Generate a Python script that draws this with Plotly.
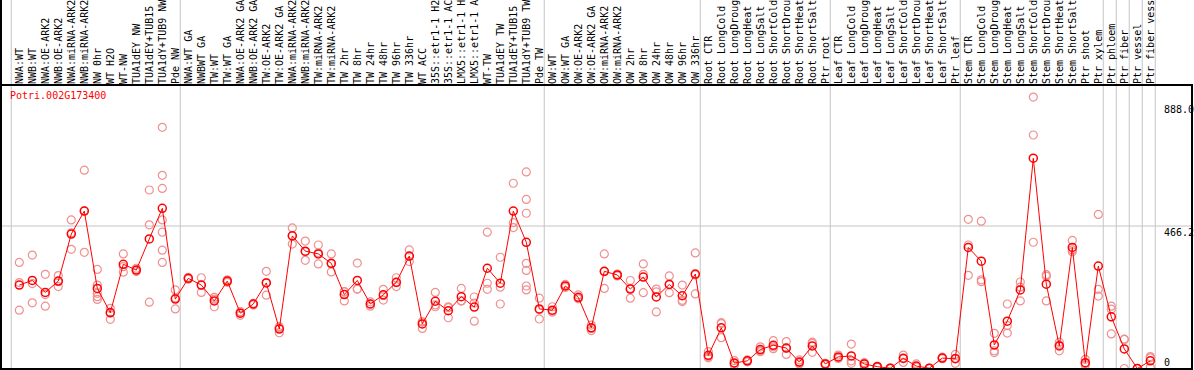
import plotly.graph_objects as go

gene = "Potri.002G173400"

labels = [
    "NWA:WT", "NWB:WT", "NWA:OE-ARK2", "NWB:OE-ARK2", "NWA:miRNA-ARK2", "NWB:miRNA-ARK2",
    "NW 0hr", "WT H2O", "WT-NW", "TUA1dEY NW", "TUA1dEY+TUB15", "TUA1dY+TUB9 NW", "Pde NW",
    "NWA:WT GA", "NWBWT GA", "TW:WT", "TW:WT GA", "NWA:OE-ARK2 GA", "NWB:OE-ARK2 GA",
    "TW:OE-ARK2", "TW:OE-ARK2 GA", "NWA:miRNA-ARK2", "NWB:miRNA-ARK2", "TW:miRNA-ARK2",
    "TW:miRNA-ARK2", "TW 2hr", "TW 8hr", "TW 24hr", "TW 48hr", "TW 96hr", "TW 336hr",
    "WT ACC", "35S::etr1-1 H2", "35S::etr1-1 AC", "LMX5::etr1-1 H", "LMX5::etr1-1 A",
    "WT-TW", "TUA1dEY TW", "TUA1dEY+TUB15", "TUA1dY+TUB9 TW", "Pde TW",
    "OW:WT", "OW:WT GA", "OW:OE-ARK2", "OW:OE-ARK2 GA", "OW:miRNA-ARK2", "OW:miRNA-ARK2",
    "OW 2hr", "OW 8hr", "OW 24hr", "OW 48hr", "OW 96hr", "OW 336hr",
    "Root CTR", "Root LongCold", "Root LongDroug", "Root LongHeat", "Root LongSalt",
    "Root ShortCold", "Root ShortDrou", "Root ShortHeat", "Root ShortSalt", "Ptr root",
    "Leaf CTR", "Leaf LongCold", "Leaf LongDroug", "Leaf LongHeat", "Leaf LongSalt",
    "Leaf ShortCold", "Leaf ShortDrou", "Leaf ShortHeat", "Leaf ShortSalt", "Ptr leaf",
    "Stem CTR", "Stem LongCold", "Stem LongDroug", "Stem LongHeat", "Stem LongSalt",
    "Stem ShortCold", "Stem ShortDrou", "Stem ShortHeat", "Stem ShortSalt", "Ptr shoot",
    "Ptr xylem", "Ptr phloem", "Ptr fiber", "Ptr vessel", "Ptr fiber vess",
]

# first index of each sample group (vertical separators)
group_starts = [0, 13, 41, 53, 63, 73, 84, 85, 86, 87, 88]

means = [
    273, 288, 249, 286, 440, 515, 262, 183, 341, 322, 424, 524, 227,
    295, 273, 221, 286, 181, 211, 280, 129, 434, 384, 375, 344, 242, 288, 211, 241, 282,
    368, 146, 220, 189, 235, 201, 328, 279, 515, 413, 195,
    191, 270, 233, 133, 318, 306, 260, 299, 234, 275, 238, 309,
    43, 133, 18, 25, 62, 76, 67, 21, 74, 15,
    38, 41, 15, 6, 1, 33, 8, 1, 34, 32,
    396, 351, 77, 155, 257, 688, 276, 74, 396, 19, 335,
    169, 64, 0, 25,
]

reps = [
    [347, 281, 191], [371, 278, 215], [308, 242, 204], [304, 284, 268], [486, 444, 390],
    [649, 516, 380], [324, 273, 246, 235, 226], [197, 181, 161], [375, 333, 315],
    [328, 322, 317], [584, 470, 217], [789, 632, 589, 486, 446, 387, 347], [257, 231, 195],
    [292, 295, 298], [297, 273, 249], [233, 227, 202], [282, 286, 290], [186, 181, 174],
    [213, 212, 208], [318, 281, 240], [137, 133, 117], [460, 434, 407], [417, 382, 354],
    [404, 378, 342], [375, 342, 316], [251, 252, 221], [345, 260, 260], [218, 211, 204],
    [259, 238, 224], [297, 281, 268],
    [388, 367, 350], [153, 152, 131], [249, 208, 202], [202, 199, 166], [262, 221, 221],
    [234, 214, 155], [446, 279, 259], [364, 266, 211], [606, 477, 461],
    [643, 553, 508, 344, 321, 270, 257], [230, 192, 162],
    [202, 188, 184], [265, 270, 275], [241, 228, 230], [142, 131, 124], [375, 317, 262],
    [309, 306, 303], [288, 262, 230], [342, 308, 248], [260, 251, 185], [303, 275, 248],
    [273, 223, 219], [378, 306, 244],
    [55, 39, 35], [150, 147, 101], [26, 17, 11], [28, 24, 22], [71, 58, 55], [91, 71, 65],
    [88, 67, 46], [15, 20, 28], [86, 82, 53], [17, 15, 12],
    [44, 36, 33], [80, 25, 17], [19, 17, 8], [4, 6, 8], [0, 1, 0.5], [44, 35, 20],
    [15, 5, 5], [0.3, 0.5, 0.8], [37, 34, 32], [46, 33, 17],
    [488, 404, 305], [482, 290, 284], [115, 58, 52], [211, 140, 116], [283, 266, 221],
    [888, 764, 413], [302, 307, 221], [86, 77, 58], [419, 388, 382], [30, 16, 11],
    [504, 259, 237],
    [204, 194, 113], [95, 0, 96], [0, 0, 0], [39, 35, 4],
]

ytick_vals = [0, 466.2, 888.0]
ytick_text = ["0", "466.2", "888.0"]

FONT = "DejaVu Sans Mono"
RED = "#ff0000"
PINK = "#f09090"
GRID = "#c4c4c4"

x_idx = list(range(len(labels)))
rx, ry = [], []
for i, vals in enumerate(reps):
    for v in vals:
        rx.append(i)
        ry.append(v)

fig = go.Figure()
fig.add_trace(go.Scatter(
    x=rx, y=ry, mode="markers",
    marker=dict(symbol="circle-open", size=8, color=PINK, line=dict(width=1.2, color=PINK)),
    hoverinfo="skip", showlegend=False, cliponaxis=True,
))
fig.add_trace(go.Scatter(
    x=x_idx, y=means, mode="lines+markers",
    line=dict(color=RED, width=1),
    marker=dict(symbol="circle-open", size=8, color=RED, line=dict(width=1.5, color=RED)),
    showlegend=False, cliponaxis=True,
))

shapes = []
for g in group_starts:
    shapes.append(dict(type="line", xref="x", yref="paper", x0=g - 0.62, x1=g - 0.62,
                       y0=0, y1=1.32, line=dict(color=GRID, width=1), layer="below"))
shapes.append(dict(type="line", xref="paper", yref="y", x0=0, x1=1,
                   y0=ytick_vals[1], y1=ytick_vals[1], line=dict(color=GRID, width=1), layer="below"))
# frame
shapes.append(dict(type="rect", xref="paper", yref="paper", x0=0, x1=1, y0=0, y1=1,
                   line=dict(color="black", width=2), layer="above"))
shapes.append(dict(type="line", xref="paper", yref="paper", x0=0, x1=0, y0=0, y1=1.32,
                   line=dict(color="black", width=2), layer="above"))

annotations = [
    dict(text=gene, xref="paper", yref="paper", x=0.006, y=0.99, xanchor="left", yanchor="top",
         showarrow=False, font=dict(family=FONT, size=10, color=RED)),
]
label_y = [21, 446.6, 849]
for v, t in zip(label_y, ytick_text):
    annotations.append(dict(text=t, xref="paper", yref="y", x=0.9757, y=v, xanchor="left",
                            yanchor="middle", showarrow=False, borderpad=0,
                            font=dict(family=FONT, size=10, color="black")))

fig.update_layout(
    width=1194, height=370,
    margin=dict(l=1, r=2, t=85, b=1, pad=0, autoexpand=False),
    paper_bgcolor="white", plot_bgcolor="white",
    shapes=shapes, annotations=annotations,
    xaxis=dict(range=[-1.408, 90.208], side="top", tickmode="array", tickvals=x_idx,
               ticktext=labels, tickangle=-90, ticks="", showgrid=False, zeroline=False,
               showline=False, tickfont=dict(family=FONT, size=10, color="black"),
               ticklabelstandoff=0, automargin=False),
    yaxis=dict(range=[-1.6, 927.5], showticklabels=False, showgrid=False, zeroline=False,
               showline=False, ticks="", automargin=False),
    font=dict(family=FONT),
)

fig.write_html(
    "out.html",
    config={"displayModeBar": False},
    post_script="document.body.style.margin='0';document.body.style.overflow='hidden';",
)
